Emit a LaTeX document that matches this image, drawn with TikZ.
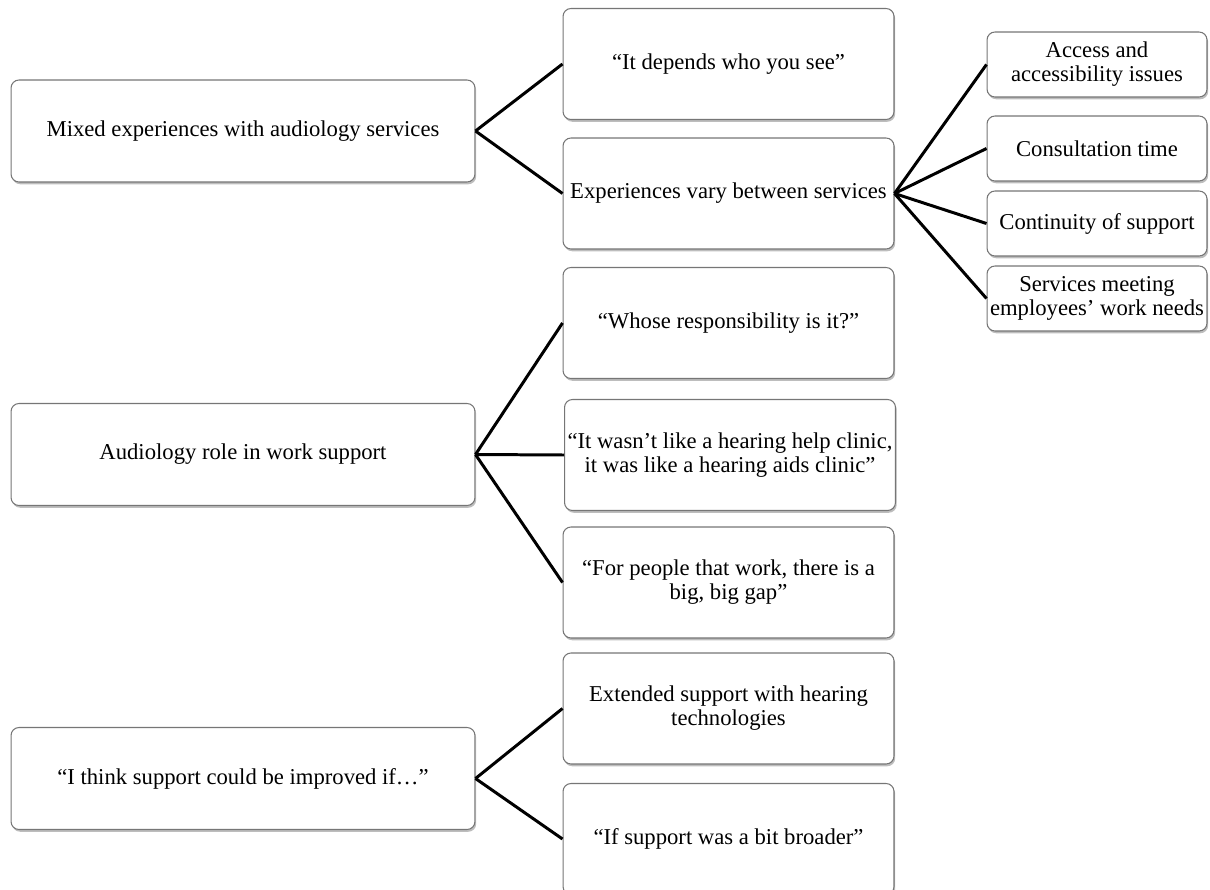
\documentclass[tikz,border=0pt]{standalone}
\usepackage{fontspec}
\setmainfont{Liberation Serif}
\usetikzlibrary{shadows}
\definecolor{boxline}{RGB}{118,118,118}
\definecolor{shade}{RGB}{90,90,90}

\begin{document}
\begin{tikzpicture}[x=0.02cm,y=-0.02cm,
  every node/.style={font=\fontsize{12.9}{13.6}\selectfont},
  theme/.style={draw=boxline,fill=white,rounded corners=4.5pt,line width=0.6pt,
    drop shadow={shadow xshift=0.7pt,shadow yshift=-1.3pt,opacity=0.4,fill=shade},
    minimum width=9.28cm,minimum height=2.04cm,inner sep=1pt,align=center},
  subtheme/.style={theme,minimum width=6.62cm,minimum height=2.22cm},
  code/.style={theme,minimum width=4.4cm,minimum height=1.3cm},
  branch/.style={line width=1.7pt,draw=black}]
\useasboundingbox (0,0) rectangle (1210,889);
\clip (0,0) rectangle (1210,889);
\node[theme] (mixed) at (243,131) {Mixed experiences with audiology services};
\node[theme] (role) at (243,454.5) {Audiology role in work support};
\node[theme] (improve) at (243,778.5) {“I think support could be improved if…”};
\node[subtheme] (depends) at (728.5,64) {“It depends who you see”};
\node[subtheme] (vary) at (728.5,193.5) {Experiences vary between services};
\node[subtheme] (whose) at (728.5,323) {“Whose responsibility is it?”};
\node[subtheme] (clinic) at (730,455) {“It wasn’t like a hearing help clinic,\\ it was like a hearing aids clinic”};
\node[subtheme] (gap) at (728.5,582.5) {“For people that work, there is a\\ big, big gap”};
\node[subtheme] (tech) at (728.5,708.5) {Extended support with hearing\\ technologies};
\node[subtheme] (broader) at (728.5,839) {“If support was a bit broader”};
\node[code] (access) at (1097,64.5) {Access and\\ accessibility issues};
\node[code] (time) at (1097,148.5) {Consultation time};
\node[code] (continuity) at (1097,223.5) {Continuity of support};
\node[code] (needs) at (1097,298.5) {Services meeting\\ employees’ work needs};
\draw[branch] (mixed.east) -- (depends.west);
\draw[branch] (mixed.east) -- (vary.west);
\draw[branch] (vary.east) -- (access.west);
\draw[branch] (vary.east) -- (time.west);
\draw[branch] (vary.east) -- (continuity.west);
\draw[branch] (vary.east) -- (needs.west);
\draw[branch] (role.east) -- (whose.west);
\draw[branch] (role.east) -- (clinic.west);
\draw[branch] (role.east) -- (gap.west);
\draw[branch] (improve.east) -- (tech.west);
\draw[branch] (improve.east) -- (broader.west);
\end{tikzpicture}
\end{document}
